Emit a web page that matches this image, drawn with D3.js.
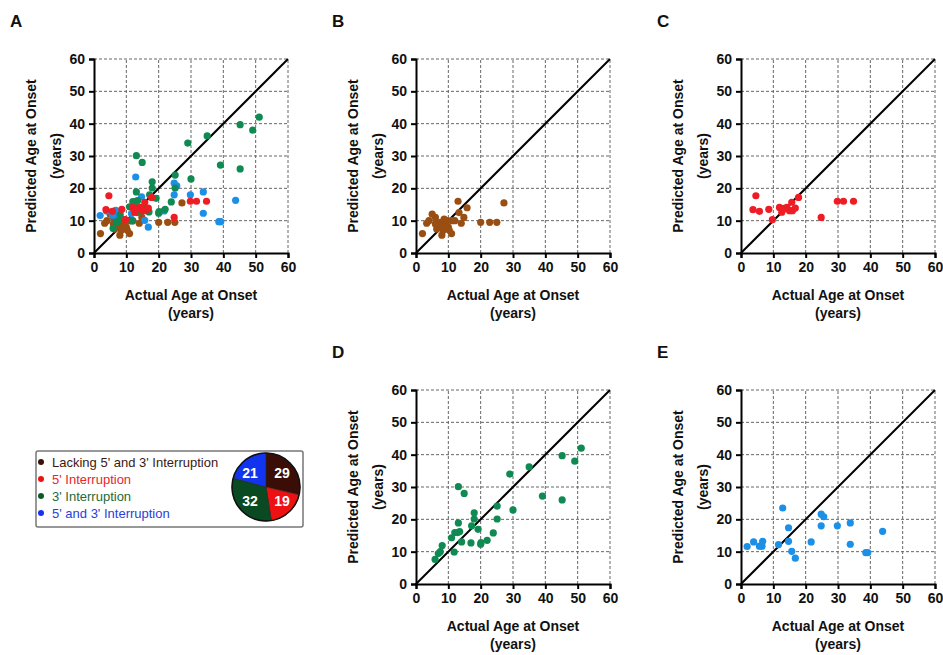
<!DOCTYPE html>
<html>
<head>
<meta charset="utf-8">
<script src="https://cdn.jsdelivr.net/npm/d3@7"></script>
<style>
  body { margin: 0; background: #fff; }
  svg { font-family: "Liberation Sans", Arial, sans-serif; }
</style>
</head>
<body>
<script>
// points: [actual, predicted]
const lacking = [
  [2,6],[3.3,9.2],[4,10],[5,12],[6,11],[6.4,7.4],[7,8.5],[7.5,9.5],[8,5.5],[8.4,7],
  [8.7,10.5],[9,9],[9.5,10],[10,8],[10.3,7],[11,6],[7.5,8],[6,9],[13,16],[13.3,12.5],
  [14,9.2],[14.8,11],[15.8,14],[12,10],[20,9.5],[22.8,9.5],[25,9.5],[27.2,15.5],[11,10]
];
const int5 = [
  [3.7,13.4],[4.6,17.7],[5.7,12.9],[8.6,13.5],[9.7,10.3],[11.9,14.1],[12.6,12.6],[13.3,13.8],
  [14.2,14.1],[15,13.1],[15.7,15.7],[15.9,13.1],[16.8,13.9],[17.8,17.2],[24.8,11],
  [29.8,16],[31.7,16],[34.8,16],[13,13.5]
];
const int3 = [
  [5.9,7.6],[6.9,9.4],[8.1,11.9],[11,14.3],[11.8,9.9],[12,15.9],[12.9,15.9],[13.1,18.9],
  [13.1,30.1],[14.1,13],[14.9,28],[17,12.7],[17.2,18],[18,20.1],[18,22],[19.2,16.9],
  [20,12.3],[20.1,12.8],[22,13.5],[23.9,15.8],[25.1,20.1],[25.1,24.1],[29,34],[30,22.9],
  [35,36.2],[39.1,27.2],[45.2,39.7],[45.2,26],[49.1,38],[51.1,42],[13.5,16.2],[7.5,10]
];
const int53 = [
  [1.9,11.6],[3.9,13],[5.7,11.7],[6.5,11.7],[6.7,13.2],[11.6,12.2],[12.9,23.5],[14.7,17.4],
  [14.7,13.2],[15.7,10.1],[16.8,8],[21.7,13],[24.8,21.6],[25.6,20.8],[24.8,18],[29.8,18],
  [33.8,18.9],[33.8,12.3],[38.6,9.7],[39.2,9.7],[43.8,16.3]
];

const groupNames = ["Lacking 5' and 3' Interruption", "5' Interruption", "3' Interruption", "5' and 3' Interruption"];
const groupCounts = [29, 19, 32, 21];
const ticks = [0, 10, 20, 30, 40, 50, 60];

const dotColors = ["#9a4e12", "#ee1c24", "#0f8a52", "#1c8fe6"];
const legendDot = ["#3a1208", "#ee1111", "#0b5a2a", "#1530ee"];
const legendText = ["#3a1a12", "#e8262c", "#1d6a38", "#2a3ed8"];
const pieColors = ["#3a0e06", "#ee1111", "#0a4a22", "#1234ee"];

const svg = d3.select("body").append("svg")
  .attr("width", 943).attr("height", 655);

const size = 194;

function drawPanel(left, top, letter, sets) {
  const x = d3.scaleLinear().domain([0, 60]).range([left, left + size]);
  const y = d3.scaleLinear().domain([0, 60]).range([top + size, top]);
  const g = svg.append("g");

  // dotted grid
  ticks.slice(1).forEach(t => {
    g.append("line").attr("x1", x(t)).attr("x2", x(t)).attr("y1", y(0)).attr("y2", y(60))
      .attr("stroke", "#666").attr("stroke-width", 1).attr("stroke-dasharray", "3,2");
    g.append("line").attr("x1", x(0)).attr("x2", x(60)).attr("y1", y(t)).attr("y2", y(t))
      .attr("stroke", "#666").attr("stroke-width", 1).attr("stroke-dasharray", "3,2");
  });

  // axes
  const ax = g.append("g").attr("transform", `translate(0,${y(0)})`)
    .call(d3.axisBottom(x).tickValues(ticks).tickSize(5).tickPadding(4));
  const ay = g.append("g").attr("transform", `translate(${x(0)},0)`)
    .call(d3.axisLeft(y).tickValues(ticks).tickSize(5).tickPadding(4));
  [ax, ay].forEach(a => {
    a.select(".domain").attr("stroke", "#000").attr("stroke-width", 2);
    a.selectAll(".tick line").attr("stroke", "#000").attr("stroke-width", 2);
    a.selectAll("text").attr("fill", "#111").attr("font-size", 14).attr("font-weight", "bold")
      .attr("font-family", "Liberation Sans, Arial, sans-serif");
  });

  // identity line
  g.append("line").attr("x1", x(0)).attr("y1", y(0)).attr("x2", x(60)).attr("y2", y(60))
    .attr("stroke", "#000").attr("stroke-width", 2);

  sets.forEach(s => {
    g.append("g").selectAll("circle").data(s.data).enter().append("circle")
      .attr("cx", d => x(d[0])).attr("cy", d => y(d[1])).attr("r", 3.6)
      .attr("fill", s.color);
  });

  const cx = left + size / 2, cy = top + size / 2;
  g.append("text").attr("x", cx).attr("y", y(0) + 47).attr("text-anchor", "middle")
    .attr("font-size", 14).attr("font-weight", "bold").attr("fill", "#111").text("Actual Age at Onset");
  g.append("text").attr("x", cx).attr("y", y(0) + 65).attr("text-anchor", "middle")
    .attr("font-size", 14).attr("font-weight", "bold").attr("fill", "#111").text("(years)");
  g.append("text").attr("transform", `translate(${left - 58},${cy}) rotate(-90)`)
    .attr("text-anchor", "middle").attr("font-size", 14).attr("font-weight", "bold")
    .attr("fill", "#111").text("Predicted Age at Onset");
  g.append("text").attr("transform", `translate(${left - 33},${cy}) rotate(-90)`)
    .attr("text-anchor", "middle").attr("font-size", 14).attr("font-weight", "bold")
    .attr("fill", "#111").text("(years)");

  g.append("text").attr("x", left - 84).attr("y", top - 32)
    .attr("font-size", 17).attr("font-weight", "bold").attr("fill", "#111").text(letter);
}

drawPanel(94, 59, "A", [
  {data: lacking, color: dotColors[0]},
  {data: int53, color: dotColors[3]},
  {data: int3, color: dotColors[2]},
  {data: int5, color: dotColors[1]}
]);
drawPanel(416, 59, "B", [{data: lacking, color: dotColors[0]}]);
drawPanel(741, 59, "C", [{data: int5, color: dotColors[1]}]);
drawPanel(416, 390, "D", [{data: int3, color: dotColors[2]}]);
drawPanel(741, 390, "E", [{data: int53, color: dotColors[3]}]);

// legend box
const lg = svg.append("g");
lg.append("rect").attr("x", 36).attr("y", 451).attr("width", 267).attr("height", 76)
  .attr("rx", 2).attr("fill", "#fff").attr("stroke", "#777").attr("stroke-width", 1.5);
groupNames.forEach((n, i) => {
  const yy = 462 + i * 17;
  lg.append("circle").attr("cx", 41).attr("cy", yy).attr("r", 3).attr("fill", legendDot[i]);
  lg.append("text").attr("x", 52).attr("y", yy + 4.5).attr("font-size", 13)
    .attr("fill", legendText[i]).text(n);
});

const pie = d3.pie().sort(null).value(d => d)(groupCounts);
const arc = d3.arc().innerRadius(0).outerRadius(34);
const pg = lg.append("g").attr("transform", "translate(266,487)");
pg.selectAll("path").data(pie).enter().append("path")
  .attr("d", arc).attr("fill", (d, i) => pieColors[i]).attr("stroke", "#222").attr("stroke-width", 0.6);
pg.append("circle").attr("r", 34).attr("fill", "none").attr("stroke", "#111").attr("stroke-width", 1.5);
const labelArc = d3.arc().innerRadius(21).outerRadius(21);
pg.selectAll("text").data(pie).enter().append("text")
  .attr("transform", d => {
    // nudge labels toward the quadrant centres, as in the figure
    const c = labelArc.centroid(d);
    return `translate(${Math.sign(c[0]) * 16},${Math.sign(c[1]) * 14})`;
  })
  .attr("text-anchor", "middle").attr("dy", "0.36em")
  .attr("font-size", 14).attr("font-weight", "bold").attr("fill", "#fff")
  .text(d => d.data);
</script>
</body>
</html>
